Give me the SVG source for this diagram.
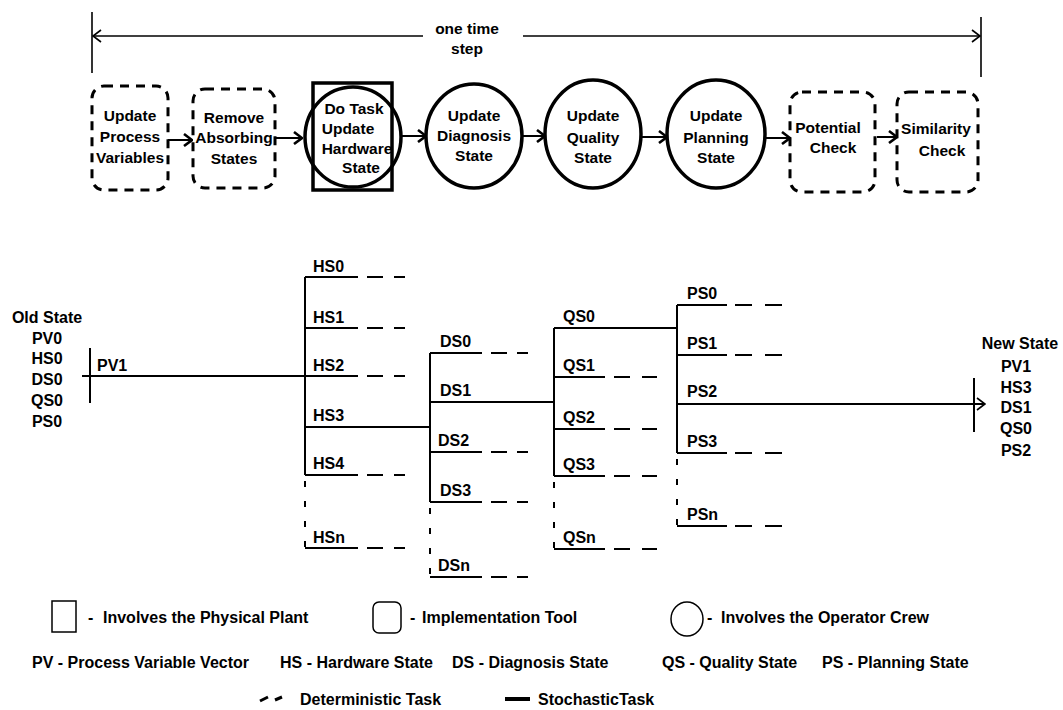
<svg xmlns="http://www.w3.org/2000/svg" width="1063" height="710" viewBox="0 0 1063 710">
<style>
text{font-family:"Liberation Sans",Arial,Helvetica,sans-serif;font-weight:bold;fill:#000}
.n{font-size:15.5px;text-anchor:middle}
.l{font-size:16px}
.c{font-size:16px;text-anchor:middle}
.dash{fill:none;stroke:#000;stroke-width:3;stroke-dasharray:9 7}
.solid{fill:none;stroke:#000;stroke-width:3.5}
.ln{fill:none;stroke:#000;stroke-width:2}
.thin{fill:none;stroke:#000;stroke-width:1.6}
.dl{fill:none;stroke:#000;stroke-width:2;stroke-dasharray:16 10}
.dv{fill:none;stroke:#000;stroke-width:2;stroke-dasharray:6 14}
.lg{fill:none;stroke:#000;stroke-width:1.5}
</style>
<defs>
<marker id="chev" viewBox="0 0 10 14" refX="9" refY="7" markerWidth="10" markerHeight="14" markerUnits="userSpaceOnUse" orient="auto">
<path d="M1,1 L9,7 L1,13" fill="none" stroke="#000" stroke-width="2.6"/>
</marker>
<marker id="thinchev" viewBox="0 0 10 14" refX="9" refY="7" markerWidth="10" markerHeight="14" markerUnits="userSpaceOnUse" orient="auto">
<path d="M1,1 L9,7 L1,13" fill="none" stroke="#000" stroke-width="1.6"/>
</marker>
</defs>
<rect width="1063" height="710" fill="#fff"/>

<!-- one time step -->
<g id="timestep">
<line class="thin" x1="92" y1="12" x2="92" y2="73"/>
<line class="thin" x1="981" y1="17" x2="981" y2="77"/>
<line class="thin" x1="423" y1="36" x2="93" y2="36" marker-end="url(#thinchev)"/>
<line class="thin" x1="523" y1="36" x2="980" y2="36" marker-end="url(#thinchev)"/>
<text class="n" x="467" y="34">one time</text>
<text class="n" x="467" y="54">step</text>
</g>

<!-- nodes -->
<g id="n-upv">
<rect class="dash" x="92" y="86" width="76" height="104" rx="12"/>
<text class="n" x="130" y="121">Update</text>
<text class="n" x="130" y="142">Process</text>
<text class="n" x="130" y="163">Variables</text>
</g>
<g id="n-ras">
<rect class="dash" x="193" y="89" width="82" height="99" rx="12"/>
<text class="n" x="234" y="123">Remove</text>
<text class="n" x="234" y="143">Absorbing</text>
<text class="n" x="234" y="164">States</text>
</g>
<g id="n-dotask">
<rect class="solid" x="313" y="83" width="79" height="107"/>
<ellipse class="solid" cx="353" cy="137" rx="48" ry="50"/>
<text class="n" x="354" y="114">Do Task</text>
<text class="n" x="348" y="134">Update</text>
<text class="n" x="357" y="154">Hardware</text>
<text class="n" x="361" y="173">State</text>
</g>
<g id="n-uds">
<ellipse class="solid" cx="474" cy="136" rx="48" ry="52"/>
<text class="n" x="474" y="121">Update</text>
<text class="n" x="474" y="141">Diagnosis</text>
<text class="n" x="474" y="161">State</text>
</g>
<g id="n-uqs">
<ellipse class="solid" cx="593" cy="134" rx="48" ry="54"/>
<text class="n" x="593" y="121">Update</text>
<text class="n" x="593" y="143">Quality</text>
<text class="n" x="593" y="163">State</text>
</g>
<g id="n-ups">
<ellipse class="solid" cx="716" cy="134" rx="49" ry="54"/>
<text class="n" x="716" y="121">Update</text>
<text class="n" x="716" y="143">Planning</text>
<text class="n" x="716" y="163">State</text>
</g>
<g id="n-pc">
<rect class="dash" x="790" y="92" width="85" height="100" rx="12"/>
<text class="n" x="828" y="133">Potential</text>
<text class="n" x="833" y="153">Check</text>
</g>
<g id="n-sc">
<rect class="dash" x="897" y="92" width="81" height="100" rx="12"/>
<text class="n" x="936" y="134">Similarity</text>
<text class="n" x="942" y="156">Check</text>
</g>

<!-- connectors -->
<g id="connectors">
<line class="ln" stroke-width="2.6" x1="168" y1="140" x2="192" y2="140" marker-end="url(#chev)"/>
<line class="ln" stroke-width="2.6" x1="275" y1="138" x2="302" y2="138" marker-end="url(#chev)"/>
<line class="ln" stroke-width="2.6" x1="401" y1="136" x2="426" y2="136" marker-end="url(#chev)"/>
<line class="ln" stroke-width="2.6" x1="522" y1="136" x2="545" y2="136" marker-end="url(#chev)"/>
<line class="ln" stroke-width="2.6" x1="641" y1="137" x2="667" y2="137" marker-end="url(#chev)"/>
<line class="ln" stroke-width="2.6" x1="765" y1="138" x2="790" y2="138" marker-end="url(#chev)"/>
<line class="ln" stroke-width="2.6" x1="877" y1="137" x2="897" y2="137" marker-end="url(#chev)"/>

<!-- old state to HS -->
<line class="ln" x1="90" y1="348" x2="90" y2="403"/>
<line class="ln" x1="82" y1="376" x2="305" y2="376"/>
<!-- HS bracket -->
<line class="ln" x1="305" y1="277" x2="305" y2="475"/>
<line class="dv" x1="305" y1="481" x2="305" y2="548"/>
<path class="ln" d="M305,277H358M305,328H358M305,376H358M305,475H358M305,548H358"/>
<path class="ln" d="M367,277H383M394,277H405M367,328H383M394,328H405M367,376H383M394,376H405M367,475H383M394,475H405M367,548H383M394,548H405"/>
<line class="ln" x1="305" y1="427" x2="430" y2="427"/>
<!-- DS bracket -->
<line class="ln" x1="430" y1="353" x2="430" y2="502"/>
<line class="dv" x1="430" y1="508" x2="430" y2="577"/>
<path class="ln" d="M430,353H482M430,452H482M430,502H482M430,577H482"/>
<path class="ln" d="M491,353H507M517,353H528M491,452H507M517,452H528M491,502H507M517,502H528M491,577H507M517,577H528"/>
<line class="ln" x1="430" y1="402" x2="554" y2="402"/>
<!-- QS bracket -->
<line class="ln" x1="554" y1="328" x2="554" y2="476"/>
<line class="dv" x1="554" y1="482" x2="554" y2="549"/>
<path class="ln" d="M554,377H605M554,429H605M554,476H605M554,549H605"/>
<path class="ln" d="M614,377H630M642,377H657M614,429H630M642,429H657M614,476H630M642,476H657M614,549H630M642,549H657"/>
<line class="ln" x1="554" y1="328" x2="677" y2="328"/>
<!-- PS bracket -->
<line class="ln" x1="677" y1="305" x2="677" y2="453"/>
<line class="dv" x1="677" y1="459" x2="677" y2="526"/>
<path class="ln" d="M677,305H727M677,355H727M677,453H727M677,526H727"/>
<path class="ln" d="M735,305H752M765,305H782M735,355H752M765,355H782M735,453H752M765,453H782M735,526H752M765,526H782"/>
<line class="ln" x1="677" y1="404" x2="985" y2="404" marker-end="url(#thinchev)"/>
<line class="ln" x1="974" y1="378" x2="974" y2="432"/>
</g>

<!-- state labels -->
<g id="old-state">
<text class="c" x="47" y="323">Old State</text>
<text class="c" x="47" y="344">PV0</text>
<text class="c" x="47" y="364">HS0</text>
<text class="c" x="47" y="385">DS0</text>
<text class="c" x="47" y="406">QS0</text>
<text class="c" x="47" y="427">PS0</text>
<text class="l" x="97" y="371">PV1</text>
</g>
<g id="new-state">
<text class="c" x="1020" y="349">New State</text>
<text class="c" x="1016" y="372">PV1</text>
<text class="c" x="1016" y="393">HS3</text>
<text class="c" x="1016" y="413">DS1</text>
<text class="c" x="1016" y="434">QS0</text>
<text class="c" x="1016" y="456">PS2</text>
</g>
<g id="hs-labels">
<text class="l" x="313" y="272">HS0</text>
<text class="l" x="313" y="323">HS1</text>
<text class="l" x="313" y="371">HS2</text>
<text class="l" x="313" y="421">HS3</text>
<text class="l" x="313" y="469">HS4</text>
<text class="l" x="313" y="543">HSn</text>
</g>
<g id="ds-labels">
<text class="l" x="440" y="347">DS0</text>
<text class="l" x="440" y="396">DS1</text>
<text class="l" x="438" y="446">DS2</text>
<text class="l" x="440" y="496">DS3</text>
<text class="l" x="438" y="571">DSn</text>
</g>
<g id="qs-labels">
<text class="l" x="563" y="322">QS0</text>
<text class="l" x="563" y="371">QS1</text>
<text class="l" x="563" y="423">QS2</text>
<text class="l" x="563" y="470">QS3</text>
<text class="l" x="563" y="543">QSn</text>
</g>
<g id="ps-labels">
<text class="l" x="687" y="299">PS0</text>
<text class="l" x="687" y="349">PS1</text>
<text class="l" x="687" y="397">PS2</text>
<text class="l" x="687" y="447">PS3</text>
<text class="l" x="687" y="520">PSn</text>
</g>

<!-- legend -->
<g id="legend">
<rect class="lg" x="52" y="601" width="24" height="31"/>
<text class="l" x="88" y="623">-</text>
<text class="l" x="103" y="623">Involves the Physical Plant</text>
<rect class="lg" x="373" y="602" width="28" height="31" rx="6"/>
<text class="l" x="410" y="623">-</text>
<text class="l" x="422" y="623">Implementation Tool</text>
<ellipse class="lg" cx="687" cy="619" rx="16" ry="17"/>
<text class="l" x="707" y="623">-</text>
<text class="l" x="721" y="623">Involves the Operator Crew</text>
<text class="l" x="32" y="668">PV - Process Variable Vector</text>
<text class="l" x="280" y="668">HS - Hardware State</text>
<text class="l" x="452" y="668">DS - Diagnosis State</text>
<text class="l" x="662" y="668">QS - Quality State</text>
<text class="l" x="822" y="668">PS - Planning State</text>
<path d="M260,701 L268,697 M275,700 L282,697" fill="none" stroke="#000" stroke-width="3"/>
<text class="l" x="300" y="705">Deterministic Task</text>
<line x1="505" y1="699" x2="530" y2="699" stroke="#000" stroke-width="4"/>
<text class="l" x="538" y="705">StochasticTask</text>
</g>
</svg>
